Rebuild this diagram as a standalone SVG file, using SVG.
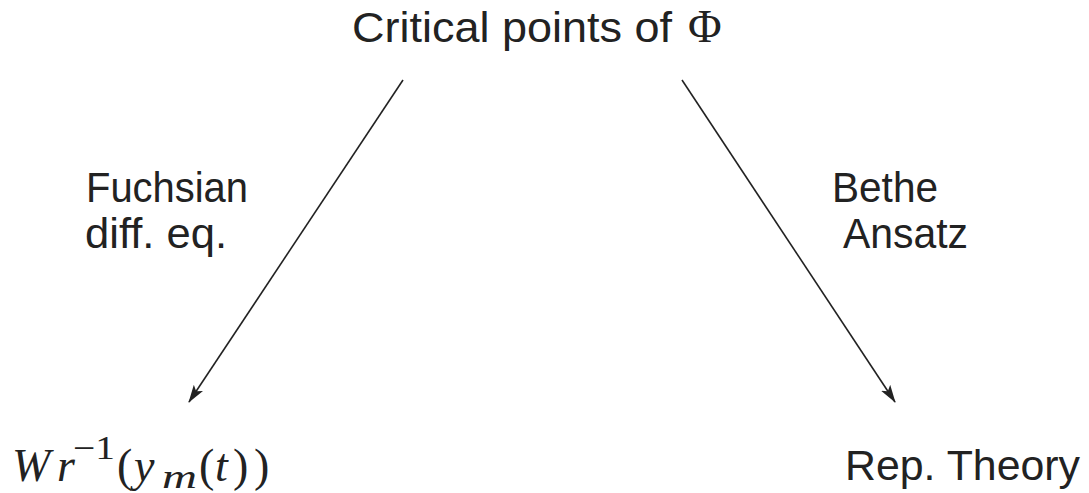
<svg xmlns="http://www.w3.org/2000/svg" width="1089" height="493" viewBox="0 0 1089 493">
<style>
.t{font-family:"Liberation Sans",Arial,sans-serif;font-size:43px;fill:#222}
.m{font-family:"Liberation Serif","Times New Roman",serif;font-size:46px;fill:#222}
.i{font-style:italic}
.s{font-size:33px}
.c{stroke:#222;stroke-width:1.6;fill:none}
</style>
<defs>
<marker id="ah" markerWidth="18" markerHeight="12" refX="17" refY="6" orient="auto" markerUnits="userSpaceOnUse">
<path d="M0,0.5 L18,6 L0,11.5 L4,6 Z" fill="#222"/>
</marker>
</defs>
<rect width="1089" height="493" fill="#fff"/>
<g id="top"><text class="t" x="352" y="42" textLength="320" lengthAdjust="spacingAndGlyphs">Critical points of</text><text class="m" x="688" y="42">Φ</text></g>
<g id="left"><text class="m"><tspan class="i" x="12" y="481">W</tspan><tspan class="i" x="57" y="481">r</tspan><tspan class="s" x="73" y="459" textLength="42" lengthAdjust="spacingAndGlyphs">−1</tspan><tspan x="117" y="481">(</tspan><tspan class="i" x="134" y="481">y</tspan><tspan class="i s" x="162" y="488" textLength="35" lengthAdjust="spacingAndGlyphs">m</tspan><tspan x="199" y="481">(</tspan><tspan class="i" x="215" y="481">t</tspan><tspan x="233" y="481">)</tspan><tspan x="254" y="481">)</tspan></text></g>
<g id="right"><text class="t" x="845" y="480" textLength="235" lengthAdjust="spacingAndGlyphs">Rep. Theory</text></g>
<g id="lab1"><text class="t" x="86" y="202" textLength="162" lengthAdjust="spacingAndGlyphs">Fuchsian</text><text class="t" x="85" y="248" textLength="142" lengthAdjust="spacingAndGlyphs">diff. eq.</text></g>
<g id="lab2"><text class="t" x="832" y="202" textLength="106" lengthAdjust="spacingAndGlyphs">Bethe</text><text class="t" x="843" y="248" textLength="125" lengthAdjust="spacingAndGlyphs">Ansatz</text></g>
<g id="connectors">
<line class="c" x1="403" y1="80" x2="189" y2="402" marker-end="url(#ah)"/>
<line class="c" x1="682" y1="80" x2="895" y2="402" marker-end="url(#ah)"/>
</g>
</svg>
